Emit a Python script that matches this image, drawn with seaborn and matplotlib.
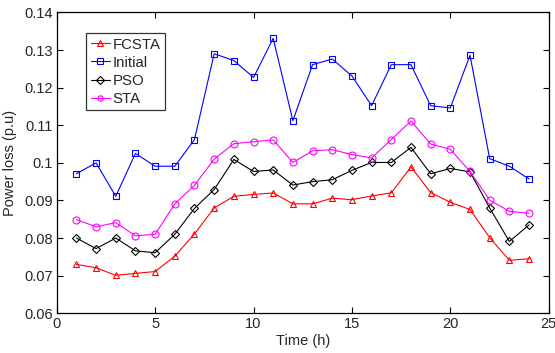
import matplotlib
matplotlib.use("Agg")
import matplotlib.pyplot as plt
import seaborn as sns
import pandas as pd

hours = list(range(1, 25))
fcsta = [0.0730, 0.0721, 0.0701, 0.0706, 0.0711, 0.0752, 0.0811, 0.0880, 0.0911, 0.0916,
         0.0920, 0.0891, 0.0891, 0.0906, 0.0902, 0.0912, 0.0920, 0.0989, 0.0921, 0.0895,
         0.0876, 0.0801, 0.0741, 0.0745]
initial = [0.0971, 0.1000, 0.0911, 0.1025, 0.0991, 0.0991, 0.1062, 0.1290, 0.1272, 0.1227,
           0.1331, 0.1112, 0.1261, 0.1276, 0.1231, 0.1152, 0.1261, 0.1261, 0.1152, 0.1146,
           0.1286, 0.1011, 0.0991, 0.0957]
pso = [0.0800, 0.0772, 0.0800, 0.0766, 0.0761, 0.0810, 0.0879, 0.0929, 0.1009, 0.0977,
       0.0981, 0.0941, 0.0950, 0.0955, 0.0980, 0.1001, 0.1001, 0.1041, 0.0971, 0.0985,
       0.0976, 0.0880, 0.0791, 0.0835]
sta = [0.0849, 0.0830, 0.0841, 0.0806, 0.0810, 0.0891, 0.0940, 0.1010, 0.1051, 0.1056,
       0.1061, 0.1001, 0.1032, 0.1035, 0.1022, 0.1013, 0.1062, 0.1111, 0.1050, 0.1036,
       0.0977, 0.0901, 0.0871, 0.0866]
names = ["FCSTA", "Initial", "PSO", "STA"]
series = [fcsta, initial, pso, sta]
colors = ["#ff0000", "#0000ff", "#000000", "#ff00ff"]
markers = ["^", "s", "D", "o"]
xticks = [0, 5, 10, 15, 20, 25]
yticks = [0.06, 0.07, 0.08, 0.09, 0.10, 0.11, 0.12, 0.13, 0.14]
ytick_labels = ["0.06", "0.07", "0.08", "0.09", "0.1", "0.11", "0.12", "0.13", "0.14"]

sns.set_style("ticks")
plt.rcParams["font.family"] = ["Liberation Sans", "DejaVu Sans"]

df = pd.DataFrame({
    "Time (h)": hours * len(names),
    "Power loss (p.u)": sum(series, []),
    "method": sum([[n] * len(hours) for n in names], []),
})

fig = plt.figure(figsize=(5.55, 3.53), dpi=100)
ax = fig.add_axes([0.1022, 0.1125, 0.8865, 0.8524])
for n, c, m in zip(names, colors, markers):
    sub = df[df["method"] == n]
    ms = 4.3 if m == "D" else 5.0
    sns.lineplot(data=sub, x="Time (h)", y="Power loss (p.u)", ax=ax, color=c,
                 marker=m, markersize=ms, markerfacecolor="none", markeredgecolor=c,
                 markeredgewidth=0.8, linewidth=0.8, label=n)

ax.set_xlim(0, 25)
ax.set_ylim(0.06, 0.14)
ax.set_xticks(xticks)
ax.set_yticks(yticks)
ax.set_yticklabels(ytick_labels)
ax.tick_params(direction="in", top=True, right=True, labelsize=10.5, length=4, width=0.8,
               color="black", pad=3)
for s in ax.spines.values():
    s.set_linewidth(0.9)
    s.set_color("black")
ax.set_xlabel("Time (h)", fontsize=10.5, labelpad=2)
ax.set_ylabel("Power loss (p.u)", fontsize=10.5, labelpad=5)
leg = ax.legend(loc="upper left", bbox_to_anchor=(0.0596, 0.931), fontsize=10.8, frameon=True,
                fancybox=False, edgecolor="black", handlelength=1.3, handletextpad=0.15,
                borderpad=0.3, labelspacing=0.27, borderaxespad=0)
leg.get_frame().set_linewidth(0.9)
for h in leg.legend_handles:
    h.set_markersize(3.8)
fig.savefig("out.png", dpi=100)
